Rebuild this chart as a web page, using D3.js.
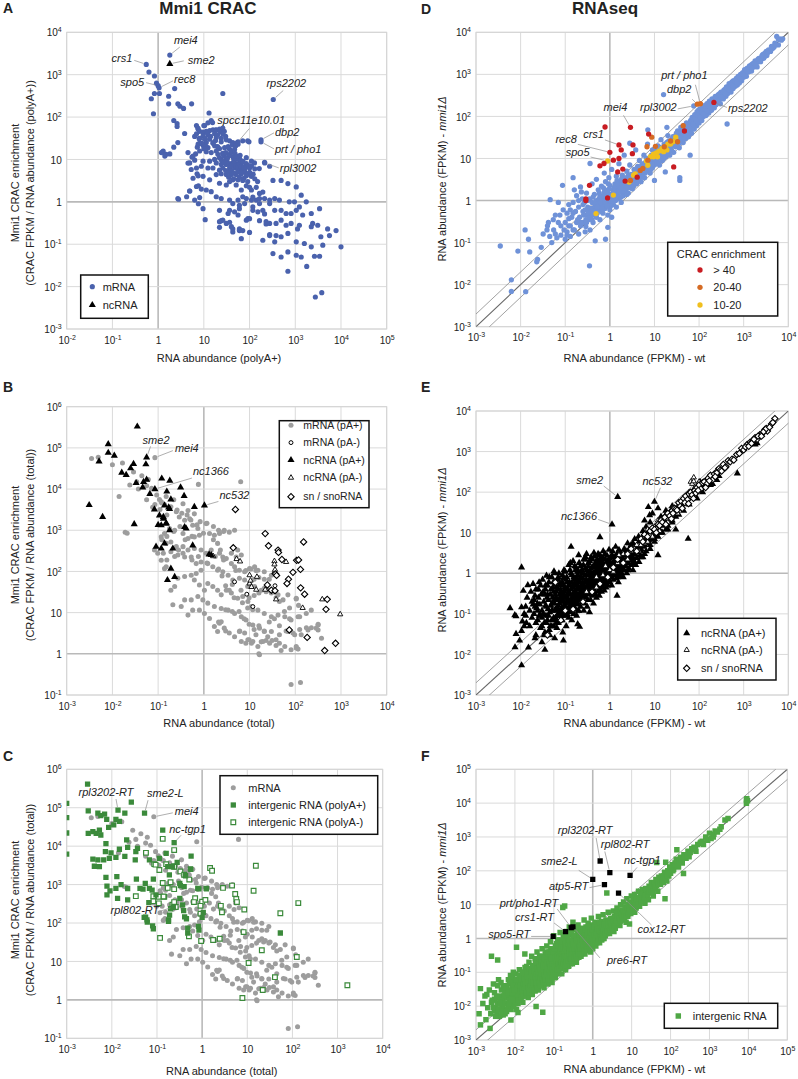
<!DOCTYPE html>
<html><head><meta charset="utf-8">
<script src="https://cdn.jsdelivr.net/npm/d3@7"></script>
<style>
body{margin:0;background:#fff;}
text{font-family:"Liberation Sans",Arial,Helvetica,sans-serif;fill:#222;}
</style></head><body>
<script>
// ===================== DATA =====================
const ticksA_x = [1e-2,1e-1,1,10,100,1e3,1e4,1e5];
const ticksA_y = [1e-3,1e-2,1e-1,1,10,100,1e3,1e4];
const ticksBC_x = [1e-3,1e-2,1e-1,1,10,100,1e3,1e4];
const ticksBC_y = [1e-1,1,10,100,1e3,1e4,1e5,1e6];
const ticksDE = [1e-3,1e-2,1e-1,1,10,100,1e3,1e4];
const ticksF = [1e-3,1e-2,1e-1,1,10,100,1e3,1e4,1e5];

// Panel A: [RNA abundance polyA+, CRAC enrichment]
const aMrna = [[0.55,1750],[0.63,1150],[0.83,930],[0.92,630],[1.0,550],[1.05,490],[0.83,360],[1.07,360],[0.71,270],[0.79,120],[1.8,2900],[2.3,470],[1.7,310],[1.7,205],[2.7,205],[3.0,180],[3.6,160],[5.4,205],[26,360],[330,260],[13,125],[2.2,83],[2.6,70],[2.6,60],[3.8,41],[2.7,25],[2.2,19.5],[1.26,15],[1.4,12],[1.8,13.5],[4.5,8.2],[5.5,11.4],[2.8,1.15],[4.9,1.8],[7.4,55],[10.7,31],[7.9,31],[8.1,24],[7.2,19.5],[6.6,13.5],[10,63],[12,43],[15.5,74],[18,49],[23,45],[28,46],[178,29],[178,26],[215,8.3],[97,26],[163,6.1],[56,23],[54,25],[7.6,0.9],[10.7,0.38],[7.1,4.6],[7.6,2.4],
[14.5,83],[12.3,73],[10.4,63],[6.9,63],[7.5,52],[8.1,46],[9.6,44],[11.3,46],[13.4,48],[15.8,50],[18.7,50],[22,52],[26,55],[17.2,41],[12.3,38],[9.6,36],[6.3,35],[6.9,40],[8.1,31.6],[10.4,30],[13.4,30],[18.7,33],[24,31.6],[31,29],[36.6,27.5],[43,25],[56,26],[71,27.5],[91,27.5],[11.3,25],[15.8,24],[7.5,23],[9.6,21.7],[12.3,19],[17.2,21],[22,18],[28.5,19],[36.6,17.4],[47,17.4],[18.7,15.8],[14.5,14.5],[11.3,15.2],[8.1,15.8],[4.5,14.5],[5.8,12],[20.3,13.2],[26,14],[36.6,13.2],[47,12],[60,11.5],[85,11],[31,10.4],[24,10],[17.2,10],[13.4,9.1],[9.6,9.1],[6.3,9.6],[4.9,8.3],[1.29,15.8],[1.18,14.5],[1.5,13.2],[18.7,8.3],[24,7.6],[31,7.6],[40,8],[51,8],[66,7.6],[85,8],[110,9.1],[128,8.3],[26,6.3],[36.6,6.3],[47,6.3],[60,5.8],[78,5.8],[100,6.3],[22,5.6],[15.8,6.3],[12.3,6.3],[8.8,6.9],[6.9,6.3],[5.3,5.8],[213,8.6],[275,6.9],[18.7,4.4],[24,4.6],[31,4.4],[40,4.4],[51,4.4],[66,4.6],[85,4.1],[110,4.0],[43,3.3],[56,3.3],[71,3.2],[91,3.0],[36.6,3.0],[9.6,4.0],[7.5,4.1],[5.8,3.6],[13.4,3.3],[22,2.75],[31,2.5],[51,2.5],[85,2.4],[100,2.2],[140,2.2],[66,1.9],[110,1.9],[11.3,1.9],[14.5,1.74],[4.9,1.8],[8.8,2.0],[6.9,2.3],[2.7,1.2],[4.2,1.32],[8.1,1.26],[6.3,1.1],[18.7,1.32],[24,1.2],[36.6,1.1],[56,1.1],[71,1.32],[85,1.2],[110,1.1],[140,1.1],[165,1.2],[213,1.2],[275,1.1],[43,0.91],[165,0.91],[9.6,0.69],[22,0.63],[36.6,0.63],[60,0.69],[118,0.76],[213,0.52],[355,0.63],[24,0.36],[36.6,0.33],[100,0.4],[165,0.36],[230,0.3],[22,0.25],[43,0.23],[60,0.21],[100,0.19],[275,0.17],[380,0.16],
[25,9],[28,8.5],[32,9.5],[35,8],[38,7],[42,7.5],[45,9],[50,7],[55,6.5],[60,8],[65,6.8],[70,5.5],[75,6.5],[80,5],[30,5.5],[35,5],[40,5.5],[45,4.8],[55,5.2],[65,4.9],[28,12],[33,11],[38,12.5],[44,11],[50,10.5],[58,10],[64,9.5],[72,9],[22,11],[26,13.5],[30,14.5],[40,15],[48,14],[52,12],[62,12.5],[34,20],[42,22],[50,21],[20,20],[16,25],[24,26],[30,35],[26,40],[20,38],[18,28],[14,35],[12,42],[11,20],[10,18],[9,24],[35,3.8],[45,3.5],[60,3.8],[75,3.6],[90,4.5],[120,4.5],[130,3.5],[150,3.0],[100,5],[85,6.7],[95,7.2],[110,7],[130,6],
[325,3.2],[490,3.2],[690,2.7],[1050,2.25],[1350,1.44],[1740,1],[960,1],[740,1],[450,1.1],[355,1.2],[275,0.91],[195,1.7],[165,1.58],[118,1.3],[118,0.63],[152,0.58],[195,0.63],[230,0.34],[275,0.31],[380,0.31],[490,0.37],[630,0.28],[810,0.31],[1230,0.28],[490,0.63],[630,0.53],[810,0.53],[1050,0.63],[1230,0.76],[1450,0.49],[2240,0.53],[2400,0.31],[2240,0.26],[3100,0.28],[3400,0.69],[5100,0.23],[7800,0.21],[3630,0.15],[4000,0.095],[5600,0.16],[10000,0.087],[195,0.124],[275,0.16],[355,0.114],[490,0.15],[690,0.18],[1050,0.114],[1120,0.23],[1580,0.104],[2240,0.087],[325,0.06],[490,0.05],[690,0.066],[1050,0.055],[1350,0.05],[2630,0.052],[3400,0.052],[1780,0.03],[690,0.023],[2750,0.0057],[3800,0.0072],[31,0.31],[40,0.26],[43,0.195],[60,0.23],[66,0.135],[71,0.21],[26,0.37],[22,0.34],[34,0.53],[47,0.58],[56,0.49],[85,0.37],[92,0.4],[60,0.83],[78,0.91]];
const aNcrna = [[1.8,1800]];

// Panels B & C: mRNA [RNA abundance (total), CRAC enrichment]
const mrnaTotal = [[0.117,4900],[0.138,4200],[0.19,3700],[0.25,2800],[0.35,4400],[0.45,3000],[0.62,2500],[0.29,2100],[0.38,1740],[0.49,1900],[0.57,1320],[0.74,1100],[1.12,1450],[1.33,830],[1.7,760],[2.2,830],[2.8,1000],[3.6,900],[4.7,1000],[0.8,760],[0.62,690],[0.45,630],[0.35,830],[0.23,1000],[0.178,1100],[0.138,830],[0.117,690],[0.15,480],[0.19,520],[0.25,400],[0.35,400],[0.45,330],[0.62,360],[0.87,330],[1.12,275],[1.45,330],[2.0,480],[2.2,275],[2.6,225],[3.1,205],[4.0,155],[4.7,130],[6.0,107],[7.8,98],[10,117],[12.9,130],[15.2,107],[21,98],[30,81],[4.0,275],[5.1,225],[5.5,330],[6.6,250],[0.19,300],[0.27,250],[0.38,225],[0.53,225],[0.68,155],[0.87,170],[1.22,155],[1.57,130],[2.0,107],[2.6,98],[3.4,81],[4.3,62],[6.0,68],[7.8,62],[10,51],[12.9,43],[18,35],[23,32],[30,30],[42,27],[54,20.4],[69,27],[105,22.4],[0.87,107],[0.68,89],[0.53,81],[0.38,75],[0.27,68],[0.23,43],[0.19,35],[0.15,130],[0.138,117],[0.117,186],[0.098,275],[0.083,330],
[0.62,62],[0.8,47],[1.03,35],[1.22,51],[1.57,43],[2.0,35],[2.4,27],[3.1,35],[4.0,30],[5.5,22.4],[7.1,24.5],[9.2,18.6],[11,14.1],[15.2,11.5],[21,9.5],[30,7.9],[42,8.7],[59,7.9],[81,6.6],[115,7.9],[174,9.5],[224,11.5],[316,5.0],[288,4.2],[190,3.8],[135,2.9],[97,2.9],[69,3.5],[45,2.9],[38,2.2],[27.5,1.8],[19.6,2.0],[15.2,1.5],[11,1.8],[9.2,2.2],[7.8,3.2],[6.0,3.5],[4.7,2.6],[3.6,3.2],[2.8,4.2],[2.2,5.5],[1.7,4.6],[1.33,7.2],[1.03,9.5],[0.8,11.5],[0.57,11.5],[0.45,8.7],[0.32,14.1],[0.21,15.5],[0.38,20.4],[0.53,20.4],[0.74,24.5],[0.95,20.4],[1.22,17],[1.7,14.1],[2.4,12.6],[3.4,11.5],[4.7,9.5],[6.6,7.9],[8.4,6.6],[11.8,5.0],[16.5,4.2],[21,3.5],[30,3.5],[45,1.8],[59,1.5],[81,1.26],[105,1.38],[16.5,0.95],[11.8,2.0],[6.6,2.0],[2.0,3.5],[2.4,6.0],[81,0.18],[130,0.2],
[0.0049,5.9e4],[0.0035,5.5e4],[0.01,3.9e4],[0.0166,4.3e4],[0.029,2.6e4],[0.034,1.5e4],[0.044,2.1e4],[0.061,1.7e4],[0.085,5.8e4],[0.014,6600],[0.019,890],[0.021,850],[0.024,1.26e4],[0.037,1.0e4],[0.056,1.2e4],[0.072,1.05e4],[0.093,7200],[0.107,5600],[0.15,6600],[0.22,5500],[0.76,1.3e4],[0.11,3200],[0.155,2350],[0.056,5500],[0.076,3600],[0.085,4200],[0.12,4600],[0.26,3100],[0.33,2600],[0.43,2350],[0.52,1780],[0.71,1350],[0.83,1620],[1.17,1480],[1.62,1230],[2.1,1000],[2.7,930],[0.3,1230],[0.22,930],[0.155,710],[0.12,590],[0.13,275],[0.155,190],[0.23,230],[0.28,330],[0.39,590],[0.55,710],[0.98,850],[1.62,590],[2.3,330],[0.35,275],[0.55,190],[0.76,230],[1.17,160],[1.78,230],[2.7,190],[6.4,1.5e4],
[105,21.5],[118,15],[125,7.9],[75,13],[75,7.1],[58,10.7],[45,18.6],[38,23],[32,32],[25,35],[21,39],[16,30],[12.6,26],[9.8,23],[11.7,11.7],[9.1,13],[7.0,17.4],[5.9,10.7],[7.6,7.1],[9.8,5.2],[12.6,3.9],[16,4.8],[21,3.6],[27,5.9],[35,7.1],[45,4.8],[63,3.6],[89,3.2],[125,3.9],[175,4.3],[225,4.3],[316,5.2],[316,3.8],[375,2.4],[105,1.5],[115,1.3],[49,1.2],[38,1.6],[31,2.1],[25,2.6],[18,1.95],[13.8,2.9],[9.8,2.2],[8.3,1.8],[6.1,3.6],[16,1.0],[23,2.1],[2.1,5.9],[3.0,3.6],[4.2,10.7],[3.0,11.7],[4.6,23],[3.6,35],[2.5,78],[2.1,115],[5.0,105],[8.3,105],[10.7,115],[13.8,105],[16,71],[21,65],[27,65],[12.6,65],[9.1,43],[6.5,35],[4.2,48],[3.0,45]];
const bMrnaPAminus = [[4.7,56],[8.7,28],[11.8,14],[36,45]];
const bNcPA = [[0.035,3.3e5],[0.0081,1.23e5],[0.0081,7.6e4],[0.0051,4.7e4],[0.011,6.5e4],[0.056,5.9e4],[0.054,4.0e4],[0.025,3.2e4],[0.029,4.1e4],[0.016,2.5e4],[0.02,2.2e4],[0.033,1.4e4],[0.048,1.5e4],[0.056,1.7e4],[0.046,1.1e4],[0.085,1.0e4],[0.066,7600],[0.12,1.8e4],[0.18,1.6e4],[0.31,1.1e4],[0.37,6800],[0.155,8700],[0.19,5600],[0.17,3600],[0.083,3200],[0.107,2300],[0.117,1320],[0.15,1450],[0.178,1000],[0.138,4000],[0.178,3300],[0.38,1200],[0.41,1100],[0.62,3700],[1.03,4000],[0.09,400],[0.117,360],[0.21,360],[0.138,480],[0.57,430],[1.45,250],[1.3,260],[0.19,117],[0.16,62],[0.23,74],[0.0031,4100],[0.0061,2100],[0.03,1400],[0.13,1900],[0.1,1350],[0.15,1500],[0.13,2100]];
const bNcPAminus = [[1.6,235],[5.2,200],[6.2,175],[10,51],[10.5,60],[14.5,74],[14,36],[22,36],[35,178],[35,148],[35,96],[36,110],[63,170],[38,21],[145,13],[390,21],[960,9.1],[10,81],[11,42]];
const bSno = [[4.9,3200],[22,830],[26,420],[42,330],[43,290],[51,195],[107,186],[118,190],[152,520],[4.4,375],[89,95],[130,112],[71,65],[66,51],[37,87],[39,80],[24.5,47],[30,35],[36,34],[131,40],[160,28],[500,21],[470,12],[74,3.8],[182,2.5],[440,1.2],[760,1.8]];

// Panel C: intergenic RNA
const cIgPA = [[0.0029,4.1e5],[0.001,1.3e5],[0.0049,7.2e4],[0.0069,6.8e4],[0.0137,8.7e4],[0.0194,7.2e4],[0.027,1.4e5],[0.053,7.2e4],[0.003,8.3e4],[0.0057,6.2e4],[0.0077,5.0e4],[0.0123,5.0e4],[0.0085,3.1e4],[0.011,3.6e4],[0.0147,4.4e4],[0.0053,2.6e4],[0.0038,2.4e4],[0.003,2.15e4],[0.0045,2.15e4],[0.0057,1.95e4],[0.0213,1.45e4],[0.0074,1.17e4],[0.0147,8300],[0.0224,9300],[0.034,7200],[0.0072,7200],[0.0096,6700],[0.0038,4600],[0.0049,4400],[0.0066,4400],[0.0041,3000],[0.0053,2950],[0.0088,4800],[0.0123,5100],[0.0194,5400],[0.037,8800],[0.033,4400],[0.068,4400],[0.134,2.6e4],[0.24,1.23e4],[0.16,6500],[0.173,2950],[0.113,4800],[0.22,2950],[0.0074,1550],[0.0129,1620],[0.035,1380],[0.016,1000],[0.0224,790],[0.0078,910],[0.0091,690],[0.0123,800],[0.083,1380],[0.055,1070],[0.068,800],[0.049,760],[0.042,800],[0.078,720],[0.095,540],[0.188,1780],[0.32,1070],[0.4,890],[0.57,5500],[0.8,800],[1.23,800],[0.0224,400],[0.0134,440],[0.0078,540],[0.32,440],[0.37,295],[0.23,260],[0.066,340],[0.052,140],[0.06,120],[0.08,84],[0.18,120],[0.19,160],[0.41,145],[0.48,74],[0.83,82],[1.0,140],[1.06,190],[0.56,2500],[0.28,3800],[0.55,2560],[0.43,1700],[0.33,940],[0.85,770],[1.25,770],[0.39,210],[0.2,235],[0.056,142],[0.061,105],[0.083,71],[0.18,110],[0.45,129],[0.85,65],[0.48,55],[54,55],[0.001,2.2e4],[0.001,5.5e4],[0.001,6200]];
const cIgPAminus = [[0.134,1.55e4],[0.24,7900],[0.057,6700],[0.087,3400],[0.16,3400],[0.24,3000],[0.113,2400],[0.33,2200],[0.4,1800],[0.134,1100],[0.2,1150],[0.52,1350],[0.083,500],[0.11,480],[0.145,480],[0.034,500],[0.11,325],[0.22,300],[0.173,820],[0.24,760],[0.7,440],[1.0,360],[1.5,2700],[2.9,820],[0.093,3300],[0.24,2900],[1.66,2300],[15.5,3100],[4.6,940],[13.8,690],[5.4,570],[5.7,420],[5.9,350],[8.6,225],[54,180],[135,330],[0.14,490],[0.083,370],[0.24,350],[0.26,260],[0.66,350],[0.92,280],[0.92,175],[1.18,400],[2.6,280],[2.75,190],[0.117,41],[0.51,45],[0.95,34],[1.75,36],[2.45,39],[8.3,58],[21,19.5],[125,13],[10.7,9.1],[41,3.9],[22,1.8],[7.8,1.12],[1650,2.4]];

// Panel D: [FPKM wt, FPKM mmi1Δ]
const dAll = [[0.0035,0.083],[0.0062,0.013],[0.0062,0.0069],[0.0087,0.063],[0.013,0.0068],[0.0126,0.2],[0.015,0.12],[0.016,0.06],[0.023,0.035],[0.024,0.04],[0.032,0.16],[0.029,0.077],[0.046,1.05],[0.042,0.3],[0.039,0.2],[0.05,0.1],[0.054,0.35],[0.065,0.13],[0.07,0.9],[0.087,2.3],[0.076,0.45],[0.094,0.2],[0.12,0.37],[0.13,0.6],[0.15,3.5],[0.16,1.8],[0.22,2.1],[0.24,1.1],[0.35,0.028],[0.36,7.6],[0.29,0.24],[0.47,0.11],[0.52,0.5],[0.8,0.12],[0.9,0.23],[0.63,1.2],
[0.04,0.25],[0.045,0.14],[0.055,0.2],[0.06,0.16],[0.06,0.45],[0.07,0.3],[0.08,0.15],[0.08,0.25],[0.09,0.6],[0.1,0.12],[0.1,0.3],[0.11,0.18],[0.11,0.5],[0.12,0.25],[0.13,0.14],[0.14,0.4],[0.15,0.9],[0.15,0.2],[0.17,0.55],[0.18,0.3],[0.18,1.3],[0.2,0.7],[0.2,0.16],[0.21,0.4],[0.23,1.6],[0.25,0.3],[0.25,0.55],[0.27,0.9],[0.28,0.18],[0.3,0.45],[0.3,1.5],[0.32,0.7],[0.33,0.35],[0.35,1.1],[0.36,0.2],[0.38,0.55],[0.4,2.5],[0.4,0.9],[0.42,0.3],[0.45,0.7],[0.45,1.4],[0.48,0.45],[0.5,1.0],[0.5,3.2],[0.55,0.6],[0.55,1.8],[0.6,0.35],[0.6,1.3],[0.65,0.8],[0.65,2.2],[0.7,0.5],[0.7,1.1],[0.75,1.6],[0.75,4.5],[0.8,0.7],[0.8,2.8],[0.85,1.2],[0.9,0.45],[0.9,1.8],[0.95,0.9],[0.95,3.5],[1.0,0.6],[1.0,1.4],[1.0,2.3],[1.1,1.0],[1.1,0.4],[1.1,5.5],[1.2,1.7],[1.2,0.8],[1.3,2.5],[1.3,1.2],[1.4,0.7],[1.4,3.8],[1.5,1.5],[1.5,2.0],[1.6,1.1],[1.6,7.5],[1.7,2.8],[1.8,1.6],[1.8,0.9],[1.9,4.0],[2.0,2.2],[2.0,1.3],[2.1,12],[2.2,3.0],[2.3,1.8],[2.4,5.0],[2.5,2.5],[2.6,1.5],[2.7,3.5],[2.8,7.0],[3.0,2.4],[3.0,4.2],[3.2,1.9],[3.3,3.2],[3.5,5.5],[3.6,2.8],[3.8,16],[4.0,4.0],[4.0,2.5],[4.2,6.5],[4.5,3.5],[4.6,9],[4.8,5.0],[5.0,2.8],[5.2,7.0],[5.5,4.5],[5.8,12],[6.0,6.0],[6.0,3.5],[6.5,8.5],[6.8,5.0],[7.0,22],[7.2,10],[7.5,6.5],[8.0,4.5],[8.0,8.0],[8.5,12],[9.0,6.0],[9.0,16],[9.5,9],[10,7.0],[10,12],[10,3.0],[11,14],[11,9],[12,10],[12,20],[13,7],[13,14],[14,11],[14,28],[15,17],[15,9],[16,13],[17,20],[18,11],[18,16],[19,24],[20,14],[20,35],[21,18],[22,12],[23,22],[24,16],[25,30],[26,20],[27,14],[28,25],[30,35],[30,19],[32,27],[33,45],[34,22],[35,30],[36,18],[38,40],[40,28],[40,50],[42,34],[44,24],[45,60],[47,38],[50,45],[50,30],[52,70],[55,40],[55,55],[58,33],[60,65],[62,48],[65,80],[66,55],[68,40],[70,95],[72,60],[75,70],[78,50],[80,110],[82,75],[85,90],[88,60],[90,130],[92,85],[95,100],[100,70],[100,120],[105,150],[108,90],[110,110],[115,80],[120,160],[122,130],[125,100],[130,180],[135,120],[140,150],[145,110],[150,200],[155,140],[160,170],[165,120],[170,230],[175,160],[180,190],[190,140],[195,260],[200,200],[205,170],[210,240],[220,160],[230,300],[235,220],[240,190],[250,270],[260,210],[270,330],[280,240],[290,290],[300,200],[310,380],[320,280],[330,320],[350,260],[360,420],[370,330],[380,380],[400,300],[410,500],[420,400],[440,350],[450,450],[470,600],[480,420],[500,500],[520,380],[540,650],[560,520],[580,460],[600,700],[620,580],[650,520],[680,800],[700,650],[720,560],[750,900],[780,700],[800,620],[850,1000],[880,800],[900,700],[950,1100],[1000,850],[1050,1300],[1100,1000],[1150,900],[1200,1400],[1300,1150],[1350,1600],[1400,1300],[1500,1200],[1600,1800],[1700,1500],[1800,2100],[1900,1700],[2000,1500],[2200,2400],[2400,2000],[2600,2800],[2800,2400],[3000,3200],[3300,2800],[3600,3800],[4000,3500],[4500,4200],[5000,5500],[6000,5000],[6500,7000],[7500,7000],[5500,8000],
[16,330],[425,66],[63,12],[37,3.5],[37,3.0],[17.5,4.8],[7.1,48],[19,55],[2.8,23],[76,178],
[0.35,0.4],[0.4,0.5],[0.5,0.55],[0.6,0.7],[0.7,0.8],[0.8,1.0],[0.9,1.1],[1.0,1.0],[1.2,1.3],[1.4,1.6],[1.6,1.8],[1.8,2.0],[2.0,2.6],[2.2,2.0],[2.5,3.0],[2.8,3.3],[3.2,3.8],[3.5,4.0],[3.8,3.2],[4.2,4.8],[5.0,6.0],[5.5,5.5],[6.5,7.0],[7.0,8.0],[8.0,9.5],[9.0,10],[11,11],[13,12],[15,14],[17,17],[19,19],[22,21],[25,24],[28,29],[32,32],[36,35],[40,42],[45,45],[50,52],[56,56],[63,63],[70,72],[80,80],[90,95],[100,100],[115,120],[130,135],[150,150],[170,175],[190,200],[220,220],[250,240],[280,290],[320,330],[360,350],[400,400],[450,480],[500,520],[560,580],[630,650],[700,720],[800,820],[900,900],[1000,1050],[1200,1200],[1400,1500],[1700,1700],[2000,2100],[2500,2500],[3000,2700],
[0.12,0.8],[0.15,0.5],[0.2,1.0],[0.22,0.25],[0.25,0.8],[0.28,0.6],[0.3,0.3],[0.32,1.0],[0.35,0.6],[0.4,0.35],[0.42,1.2],[0.45,0.55],[0.5,0.4],[0.55,0.9],[0.58,1.5],[0.65,0.55],[0.68,1.0],[0.72,2.0],[0.78,0.65],[0.85,0.8],[0.88,1.5],[0.92,2.5],[1.05,0.75],[1.15,1.4],[1.25,2.0],[1.35,1.0],[1.45,3.0],[1.55,1.3],[1.65,2.2],[1.75,1.2],[1.85,3.3],[1.95,1.8],[2.1,1.6],[2.3,2.5],[2.4,1.4],[2.6,4.0],[2.9,2.0],[3.1,3.0],[3.4,2.2],[3.7,4.8],[3.9,2.8],[4.3,3.0],[4.4,6.0],[4.7,4.0],[5.3,3.6],[5.6,7.5],[6.2,4.5],[6.6,10],[7.3,5.5],[7.8,7.2],[8.3,5.5],[8.8,10],[9.3,7.5],[10.5,8.5],[11.5,16],[12.5,8.0],[13.5,18],[14.5,13],[16,10],[16.5,22],[19,13],[21,26],[23,15],[26,33],[29,22],[31,40],[34,26],[37,24],[39,55],[43,32],[46,42],[49,36],[53,60],[57,45],[61,38],[64,75],[69,52],[73,85],[77,62],[83,70],[87,110],[93,75],[97,140],[103,85],[112,95],[118,140],[127,115],[137,170],[142,105],[152,180],[162,145],[172,135],[182,230],[198,175],[212,190],[225,270],[245,210],[265,250],[290,350],[310,270],[340,300],[380,440],[420,350],[460,520],[520,470],[580,700],[640,560],[720,800],[820,700],[920,1000],[1100,1150],[1300,1250],[1500,1700],[1800,1600],[2200,2000],[2700,3000],[3200,3500],[4200,4000],[4800,4500],[7000,6500],
[0.11,0.15],[0.13,0.25],[0.16,0.2],[0.19,0.35],[0.22,0.3],[0.26,0.45],[0.29,0.35],[0.33,0.5],[0.37,0.65],[0.41,0.45],[0.46,0.85],[0.52,0.7],[0.57,1.1],[0.62,0.9],[0.67,0.65],[0.73,1.3],[0.77,0.95],[0.83,1.6],[0.87,0.75],[0.93,1.2],[0.98,1.9],[1.05,1.3],[1.15,0.95],[1.25,1.6],[1.35,2.2],[1.45,1.3],[1.55,2.4],[1.65,1.6],[1.75,2.0],[1.9,2.4],[2.05,1.7],[2.2,2.6],[2.35,3.5],[2.5,2.0],[2.65,3.2],[2.85,2.6],[3.05,3.6],[3.3,2.7],[3.55,4.4],[3.8,3.7],[4.1,5.2],[4.4,3.6],[4.8,6.2],[5.2,4.8],[5.7,6.8],[6.2,5.4],[6.8,7.6],[7.4,6.2],[8.1,9.5],[8.8,7.4],[9.6,11],[10.5,10],[11.5,12.5],[12.5,11],[13.5,15],[14.5,13],[16,17],[17.5,15],[19,21],[21,19],[23,25],[25,22],[27,30],[30,27],[33,36],[36,32],[39,43],[43,39],[47,52],[51,46],[56,62],[61,55],[67,74],[73,66],[80,88],[87,80],[95,105],[105,95],[115,125],[125,115],[138,150],[150,138],[165,180],[180,165],[200,220],[220,200],[240,265],[265,240],[290,320],[320,290],[350,390],[390,350],[430,470],[470,430],[520,570],[570,520],[640,700],[700,640],[780,850],[850,780],[950,1040],[1040,950],[1150,1260],[1260,1150],[1400,1530],[1530,1400],[1700,1850],[1850,1700],[2100,2300],[2300,2100],[2600,2800],[3500,3300],[4200,4600],[5200,5000],[6000,6800]];
const dRed = [[0.78,56],[2.9,55],[3.3,21],[1.6,21],[1.0,14],[1.2,9.1],[1.8,16],[1.6,10],[0.74,7.6],[0.6,6.7],[1.5,4.8],[1.95,5.6],[3.2,13],[2.2,2.9],[4.1,3.6],[0.35,2.3],[0.29,1.0],[0.29,1.1],[0.89,1.15],[7.4,38],[27,6.3],[47,45],[215,215]];
const dOrange = [[91,195],[107,200],[44,60],[8.7,32],[6.8,19],[10.5,19.5],[23,26],[33,25],[4.8,5.2],[5.5,5.8],[2.9,3.0],[7.1,9.1],[16.6,19]];
const dYellow = [[0.89,8.7],[1.2,1.35],[0.49,0.49],[2.7,2.75],[3.4,4.0],[3.7,4.3],[6.6,8.7],[8.1,11],[9.5,12.6],[11,13.5],[12.6,15],[14.8,17.4],[17.4,19],[20,22],[23,22],[26,25],[30,32],[11.7,11],[7.1,6.9],[9.5,11],[16,14.5],[19,16]];

// Panel E
const eNcPA = [[0.03,0.02],[0.03,0.05],[0.032,0.1],[0.035,0.3],[0.035,0.035],[0.038,0.15],[0.04,0.07],[0.04,0.5],[0.042,0.22],[0.045,0.03],[0.045,0.11],
[0.05,0.05],[0.05,0.18],[0.05,0.8],[0.055,0.35],[0.055,0.08],[0.058,0.025],[0.06,0.13],[0.06,0.6],[0.062,0.25],[0.065,0.045],[0.065,0.09],[0.068,0.4],[0.07,0.16],[0.07,0.06],[0.072,1.0],[0.075,0.3],
[0.08,0.11],[0.08,0.5],[0.082,0.2],[0.085,0.07],[0.088,0.035],[0.09,0.14],[0.09,0.75],[0.095,0.28],[0.1,0.09],[0.1,0.18],[0.1,0.4],[0.1,1.1],[0.105,0.05],[0.11,0.13],[0.11,0.6],[0.115,0.24],[0.12,0.08],[0.12,0.35],[0.12,1.6],[0.125,0.16],
[0.13,0.5],[0.13,0.11],[0.135,0.22],[0.14,0.07],[0.14,0.9],[0.145,0.3],[0.15,0.15],[0.15,0.45],[0.15,2.0],[0.155,0.1],[0.16,0.25],[0.16,0.7],[0.165,0.35],[0.17,0.13],[0.17,1.2],[0.175,0.2],[0.18,0.55],[0.18,0.09],[0.185,0.3],[0.19,0.9],[0.19,0.17],[0.2,2.8],[0.2,0.4],[0.2,0.12],
[0.21,0.25],[0.21,0.65],[0.22,1.5],[0.22,0.15],[0.23,0.35],[0.23,0.5],[0.24,0.2],[0.24,1.0],[0.25,0.28],[0.25,0.75],[0.26,0.12],[0.26,2.2],[0.27,0.4],[0.27,0.18],[0.28,0.6],[0.28,1.3],[0.29,0.25],[0.3,0.32],[0.3,0.9],[0.3,3.0],[0.31,0.15],[0.32,0.45],[0.32,0.22],[0.33,1.8],[0.33,0.65],[0.34,0.3],[0.35,1.1],[0.35,0.38],[0.35,0.11],
[0.36,0.5],[0.37,0.22],[0.38,0.8],[0.38,2.5],[0.39,0.35],[0.4,0.28],[0.4,1.4],[0.41,0.6],[0.42,0.45],[0.43,0.18],[0.43,1.0],[0.44,3.2],[0.45,0.38],[0.46,0.7],[0.47,1.8],[0.48,0.3],[0.48,0.55],[0.5,0.25],[0.5,0.9],[0.5,1.2],[0.51,0.45],[0.52,2.2],[0.53,0.65],[0.54,0.35],[0.55,1.5],[0.56,0.8],[0.57,0.5],[0.58,0.28],[0.58,1.1],[0.6,0.6],[0.6,2.8],[0.6,0.4],
[0.62,0.9],[0.63,1.3],[0.64,0.5],[0.65,0.35],[0.66,1.8],[0.67,0.7],[0.68,1.0],[0.7,0.45],[0.7,2.4],[0.72,0.6],[0.73,1.4],[0.74,0.85],[0.75,0.38],[0.76,1.1],[0.78,3.0],[0.78,0.55],[0.8,0.7],[0.8,1.7],[0.82,0.45],[0.84,1.0],[0.85,1.3],[0.86,0.62],[0.88,2.0],[0.9,0.8],[0.9,0.5],[0.92,1.15],[0.94,1.6],[0.95,0.7],[0.96,3.8],[0.98,0.95],[1.0,1.3],[1.0,0.6],[1.0,2.3],
[1.05,0.8],[1.08,1.1],[1.1,1.6],[1.1,0.5],[1.12,2.8],[1.15,0.95],[1.2,1.3],[1.2,0.7],[1.25,2.0],[1.28,0.9],[1.3,1.6],[1.35,1.1],[1.35,4.5],[1.4,0.75],[1.45,1.4],[1.5,2.4],[1.5,1.0],[1.55,0.6],[1.6,1.8],[1.65,1.2],[1.7,3.2],[1.7,0.85],[1.75,1.5],[1.8,2.2],[1.85,1.0],[1.9,1.3],[1.95,2.8],[2.0,1.7],[2.0,0.8],
[2.1,1.2],[2.2,2.0],[2.3,1.5],[2.3,3.5],[2.4,1.0],[2.5,2.5],[2.6,1.8],[2.7,1.3],[2.8,3.0],[2.9,2.1],[3.0,1.6],[3.0,5.0],[3.2,2.6],[3.3,1.2],[3.4,3.8],[3.5,2.0],[3.7,2.9],[3.8,1.6],[4.0,4.5],[4.0,2.4],[4.2,3.3],[4.5,1.9],[4.5,6.0],[4.8,2.8],[5.0,4.0],[5.0,3.5],
[5.5,8],[5.5,2.5],[6,5],[6,20],[6.5,3.5],[7,10],[7,5.5],[7.3,43],[7.8,27],[8,4],[8.5,7],[9,12],[10,58],[10,6],[11,9],[12,2.8],[12,15],[14,10],[15,22],[18,12],[20,15],[22,30],[25,18],[30,12],[30,25],[57,7.1],[40,45],[75,110],[105,180],[125,140],[150,170],[200,160],[280,250],[720,290],[2000,1600],[1800,1500],
[0.0058,0.138],[0.0074,0.093],[0.0079,0.087],[0.0105,1.4],[0.0145,0.51],[0.0115,0.37],[0.0105,0.145],[0.012,0.1],[0.013,0.09],[0.011,0.065],[0.0135,0.06],[0.0105,0.038],[0.0079,0.032],[0.0095,0.022],[0.0075,0.015],[0.0105,0.0054],[0.015,0.0148],[0.021,0.28],[0.019,0.17],[0.021,0.15],[0.024,0.12],[0.021,0.025],[0.035,0.013],[0.038,0.87],[0.036,0.5],[0.056,1.12],[0.059,0.52],[0.064,0.061],[0.091,0.022],[0.135,4.5],[0.13,1.8],[0.19,0.056],[0.21,0.048],[0.6,7.8],[1.45,0.28],[0.28,2.2],[1.12,16],[1.5,76],[0.018,0.2],[0.025,0.4],[0.028,0.09],[0.016,0.05],[0.022,0.06]];
const eNcPAcore = [[0.05,0.07],[0.06,0.08],[0.07,0.1],[0.08,0.09],[0.09,0.12],[0.1,0.15],[0.11,0.1],[0.12,0.13],[0.13,0.2],[0.14,0.16],[0.15,0.25],[0.16,0.18],[0.17,0.22],[0.18,0.2],[0.19,0.26],[0.2,0.22],[0.21,0.3],[0.22,0.35],[0.23,0.27],[0.24,0.3],[0.25,0.4],[0.26,0.33],[0.27,0.28],[0.28,0.42],[0.29,0.36],[0.3,0.38],[0.31,0.5],[0.32,0.33],[0.33,0.42],[0.34,0.55],[0.35,0.48],[0.36,0.4],[0.37,0.6],[0.38,0.45],[0.39,0.52],[0.4,0.7],[0.41,0.5],[0.42,0.6],[0.43,0.75],[0.44,0.48],[0.45,0.58],[0.46,0.9],[0.47,0.62],[0.48,0.75],[0.5,0.65],[0.52,0.8],[0.54,0.6],[0.56,1.0],[0.58,0.7],[0.6,0.85],[0.62,0.65],[0.64,1.1],[0.66,0.8],[0.68,0.6],[0.7,1.0],[0.72,1.3],[0.74,0.7],[0.76,0.9],[0.78,1.2],[0.8,0.85],[0.82,1.5],[0.84,0.75],[0.86,1.1],[0.88,0.9],[0.9,1.3],[0.92,0.7],[0.94,1.0],[0.96,1.2],[0.98,2.0],[1.02,1.0],[1.06,1.5],[1.1,1.2],[1.14,0.9],[1.18,1.8],[1.22,1.1],[1.26,1.4],[1.3,0.95],[1.35,2.2],[1.4,1.3],[1.45,1.7],[1.5,1.2],[1.55,2.8],[1.6,1.5],[1.65,1.0],[1.7,2.0],[1.8,1.4],[1.9,2.5],[2.0,2.0],[2.1,1.6],[2.2,2.8],[2.3,1.8],[2.4,3.0],[2.6,2.2],[2.8,2.5],[3.0,3.2],[3.2,2.2],[3.5,3.0],[3.8,4.5],[4.2,3.8],[4.6,4.2],[5.2,5.0],[5.8,4.5],[6.5,7],[7.5,6.5],[8.5,9],[9.5,8],[11,11],[13,12],[16,15],[19,18],
[0.012,0.05],[0.013,0.15],[0.014,0.25],[0.016,0.12],[0.017,0.35],[0.018,0.08],[0.019,0.55],[0.02,0.1],[0.02,0.22],[0.022,0.4],[0.023,0.14],[0.024,0.07],[0.025,0.25],[0.026,0.6],[0.027,0.17],[0.028,0.045],[0.029,0.3],[0.03,0.12],[0.031,0.7],[0.033,0.2],[0.034,0.06],[0.036,0.4],[0.037,0.09],[0.039,0.25],[0.041,0.13],[0.043,0.6],[0.044,0.04],[0.046,0.3],[0.048,0.16],[0.052,0.12],[0.053,0.45],[0.057,0.22],[0.058,1.0],[0.063,0.35],[0.067,0.14],[0.069,0.7],[0.073,0.22],[0.077,0.12],[0.078,0.4],[0.083,0.3],[0.087,0.9],[0.092,0.2],[0.093,0.5],[0.097,0.35],[0.108,0.8],[0.112,0.3],[0.118,0.5],[0.122,0.2],[0.128,1.2],[0.138,0.4],[0.142,0.6],[0.148,0.25],[0.158,0.5],[0.162,1.5],[0.168,0.3],[0.178,0.8],[0.182,0.4],[0.188,1.1],[0.195,0.6],[0.205,1.8],[0.215,0.45],[0.225,0.8],[0.235,1.2],[0.245,0.6],[0.255,1.6],[0.265,0.5],[0.275,0.9],[0.285,2.5],[0.295,0.7],[0.305,1.2],[0.315,0.6],[0.325,1.5],[0.345,0.9],[0.355,2.0],[0.365,0.7],[0.375,1.3],[0.395,1.0],[0.405,2.2],[0.425,0.8],[0.445,1.4],[0.455,2.6],[0.475,1.1],[0.495,1.6],[0.515,0.9],[0.535,1.8],[0.545,3.0],[0.565,1.3],[0.585,2.0],[0.61,1.0],[0.63,2.5],[0.65,1.5],[0.69,1.8],[0.71,3.5],[0.75,1.6],[0.79,2.2],[0.83,1.4],[0.87,2.7],[0.91,1.8],[0.97,1.5],[1.05,2.5],[1.15,3.5],[1.25,2.5],[1.45,3.0],[1.6,3.8],[1.8,3.0],[2.1,4.0],[2.5,5.5],[2.7,4.0],[3.3,5.5],[3.6,7],[4.4,8],[5.5,11],[6.5,14],[8,18],[9,30],[12,40],[14,25],[18,35],[25,45],
[1.5,0.8],[2.5,1.2],[3.5,1.8],[5,2.5],[6,3],[8,5],[10,7],[12,8],[15,10],[20,12],[25,20],[35,28],[45,35],[60,50],[90,70],[120,100],[180,150],[250,200],
[0.022,0.03],[0.024,0.18],[0.026,0.09],[0.028,0.5],[0.03,0.08],[0.032,0.35],[0.034,0.03],[0.036,0.16],[0.038,0.06],[0.04,0.3],[0.042,0.09],[0.044,0.8],[0.046,0.05],[0.048,0.4],[0.05,0.12],[0.052,0.25],[0.054,0.6],[0.056,0.05],[0.058,0.18],[0.06,0.3],[0.062,0.07],[0.064,0.45],[0.066,0.12],[0.068,0.22],[0.07,0.8],[0.072,0.09],[0.074,0.18],[0.076,0.55],[0.078,0.25],[0.08,0.07],[0.082,0.35],[0.084,0.14],[0.086,0.6],[0.088,0.22],[0.09,0.09],[0.092,0.3],[0.094,1.2],[0.096,0.16],[0.098,0.45],[0.1,0.25],[0.105,0.7],[0.11,0.2],[0.115,0.4],[0.12,0.12],[0.125,0.6],[0.13,0.3],[0.135,1.0],[0.14,0.18],[0.145,0.45],[0.15,0.28],[0.155,0.8],[0.16,0.14],[0.165,0.55],[0.17,0.3],[0.175,1.4],[0.18,0.2],[0.185,0.7],[0.19,0.45],[0.195,0.12],[0.2,1.1]];
const eNcPAminus = [[2,3],[4,5],[6,8],[7,12],[8,9],[10,14],[12,20],[15,16],[18,28],[20,22],[25,40],[30,35],[35,50],[40,45],[45,70],[50,55],[55,90],[60,100],[65,180],[70,160],[80,130],[100,180],[120,160],[150,200],[180,210],[250,350],[0.5,0.8],[0.8,1.5],[1,1.2],[3,3.5],[1.6,2.8],[5,5],[76,230],[76,185],[0.3,0.35],[0.5,0.45],[0.7,0.9],[1.2,1.1],[1.5,1.8],[2.5,2.2],[3.5,4],[4.5,3.5],[6,5.5],[7,6],[9,8],[11,13],[13,11],[16,20],[20,18],[28,32],[33,30]];
const eSno = [[1.5,2.2],[3,4],[5,7],[6,9],[8,11],[9,13],[10,12],[12,16],[14,20],[15,18],[17,24],[20,30],[22,26],[25,35],[28,40],[30,38],[35,55],[38,45],[40,60],[45,70],[50,80],[55,65],[60,90],[65,100],[70,85],[80,110],[90,130],[100,150],[110,120],[120,170],[130,180],[150,160],[160,220],[180,260],[200,200],[220,280],[250,300],[280,380],[300,350],[350,480],[400,420],[450,600],[500,560],[550,650],[700,850],[900,1200],[1200,1500],[1400,1700],[1600,1800],[1800,2200],[2000,2000],[2300,2600],[2600,2800],[3000,3500],[3400,3200],[4200,4800],[5000,6500],[0.04,0.03],[0.06,0.6],
[0.08,0.07],[0.1,0.12],[0.15,0.13],[0.25,0.2],[0.4,0.35],[0.6,0.55],[0.9,0.8],[1.2,1.4],[2,1.8],[2.5,3],[4,3.5],[5.5,6],[7,8],[11,10],[13,15],[18,16],[24,22],[26,30],[32,36],[42,40],[48,55],[58,52],[75,70],[85,95],[95,110],[140,130],[170,190],[230,240],[320,330],[380,400],[600,620],[800,900],[1000,1100],[1100,1300],[1300,1350],[1500,1600],[1700,2000],[2100,2400],[2500,2400],[2800,3100],[3200,3700],[3800,4000],[4500,5200]];

// Panel F
const fIg = [[0.0013,0.0028],[0.0023,0.0022],[0.0013,0.033],[0.0017,0.02],[0.0019,0.022],[0.0025,0.3],[0.0036,0.23],[0.003,0.0073],[0.0033,0.009],[0.0035,0.0068],[0.005,0.0055],[0.0079,0.0039],[0.0025,0.013],[0.003,0.016],[0.0035,0.012],[0.004,0.02],[0.004,0.008],[0.0045,0.03],[0.0048,0.011],[0.0028,0.045],[0.0038,0.06],
[0.005,0.015],[0.0055,0.025],[0.0058,0.008],[0.006,0.04],[0.0062,0.012],[0.0065,0.018],[0.0068,0.06],[0.007,0.009],[0.0072,0.028],[0.0075,0.014],[0.0078,0.045],[0.008,0.02],[0.0082,0.011],[0.0085,0.035],[0.0088,0.07],[0.009,0.016],[0.0092,0.025],[0.0095,0.012],[0.0098,0.05],[0.011,0.55],[0.011,0.008],[0.012,0.0065],
[0.01,0.02],[0.01,0.03],[0.0105,0.09],[0.011,0.015],[0.011,0.045],[0.0115,0.025],[0.012,0.06],[0.012,0.012],[0.0125,0.035],[0.013,0.02],[0.013,0.12],[0.0135,0.05],[0.014,0.028],[0.014,0.016],[0.0145,0.08],[0.015,0.04],[0.015,0.022],[0.016,0.065],[0.016,0.013],[0.017,0.032],[0.017,0.1],[0.018,0.35],[0.018,0.05],[0.018,0.02],[0.019,0.075],[0.019,0.028],
[0.02,0.04],[0.02,0.15],[0.021,0.025],[0.021,0.06],[0.022,0.09],[0.022,0.018],[0.023,0.035],[0.023,0.2],[0.024,0.05],[0.025,0.12],[0.025,0.028],[0.026,0.07],[0.026,0.04],[0.027,0.3],[0.028,0.022],[0.028,0.1],[0.029,0.055],[0.03,0.035],[0.03,0.16],[0.031,0.08],[0.032,0.045],[0.033,0.25],[0.033,0.028],[0.034,0.12],[0.035,0.06],[0.035,0.0098],[0.036,0.04],[0.037,0.4],[0.038,0.09],[0.039,0.18],[0.04,0.05],[0.04,0.03],[0.041,0.13],[0.042,0.07],[0.043,0.3],[0.044,0.1],[0.045,0.04],[0.046,0.22],[0.047,0.06],[0.048,0.15],[0.049,0.08],[0.052,0.0066],
[0.05,0.5],[0.05,0.045],[0.052,0.11],[0.053,0.07],[0.055,0.2],[0.056,0.035],[0.058,0.13],[0.06,0.09],[0.06,0.35],[0.062,0.055],[0.064,0.17],[0.065,0.11],[0.066,0.6],[0.068,0.07],[0.07,0.25],[0.07,0.045],[0.072,0.14],[0.074,0.09],[0.076,0.4],[0.078,0.06],[0.08,0.2],[0.08,0.12],[0.082,0.8],[0.085,0.08],[0.086,0.3],[0.088,0.16],[0.09,0.05],[0.09,0.11],[0.092,0.5],[0.094,0.22],[0.096,0.14],[0.098,0.07],
[0.1,0.35],[0.1,0.1],[0.1,1.2],[0.105,0.18],[0.11,0.07],[0.11,0.28],[0.11,0.6],[0.115,0.13],[0.12,0.45],[0.12,0.2],[0.12,0.09],[0.125,0.9],[0.13,0.3],[0.13,0.15],[0.135,0.11],[0.14,0.5],[0.14,0.22],[0.145,1.5],[0.15,0.35],[0.15,0.13],[0.155,0.7],[0.16,0.25],[0.16,0.09],[0.165,0.18],[0.17,0.45],[0.17,8.3],[0.175,1.1],[0.18,0.3],[0.18,0.14],[0.185,0.6],[0.19,0.22],[0.19,9.1],[0.195,0.4],[0.2,0.12],[0.2,0.8],
[0.21,0.3],[0.21,1.6],[0.22,0.5],[0.22,0.18],[0.23,0.25],[0.23,1.0],[0.24,0.38],[0.24,0.15],[0.25,0.65],[0.25,2.2],[0.26,0.28],[0.27,0.45],[0.27,0.2],[0.28,1.3],[0.28,0.8],[0.29,0.35],[0.3,0.55],[0.3,0.18],[0.31,3.0],[0.32,0.4],[0.32,1.0],[0.33,0.25],[0.34,0.7],[0.35,0.45],[0.35,1.8],[0.36,0.3],[0.37,0.9],[0.38,0.55],[0.38,0.2],[0.4,1.3],[0.4,0.38],[0.41,0.7],[0.42,2.5],[0.43,0.5],[0.44,0.28],[0.45,1.0],[0.46,0.65],[0.47,1.6],[0.48,0.4],[0.49,0.85],[0.5,0.3],
[0.5,1.2],[0.52,0.55],[0.53,2.0],[0.55,0.75],[0.56,0.4],[0.57,1.0],[0.58,1.5],[0.6,0.6],[0.6,3.5],[0.62,0.9],[0.63,0.35],[0.64,1.3],[0.66,0.7],[0.67,2.2],[0.68,0.5],[0.7,1.1],[0.71,0.8],[0.72,1.7],[0.74,0.45],[0.75,1.0],[0.76,2.8],[0.78,0.65],[0.8,1.4],[0.8,0.9],[0.82,0.55],[0.84,2.0],[0.85,1.2],[0.87,0.75],[0.88,0.4],[0.9,1.6],[0.9,1.0],[0.92,4.0],[0.94,0.65],[0.95,1.3],[0.97,2.5],[0.98,0.85],
[1.0,1.1],[1.0,0.5],[1.05,1.8],[1.1,0.8],[1.1,1.4],[1.15,3.0],[1.2,1.0],[1.2,0.6],[1.25,2.2],[1.3,1.3],[1.3,0.8],[1.35,1.7],[1.4,1.0],[1.4,4.5],[1.45,2.6],[1.5,1.4],[1.5,0.75],[1.55,2.0],[1.6,1.1],[1.65,3.2],[1.7,1.6],[1.7,0.9],[1.75,2.4],[1.8,1.3],[1.85,5.0],[1.9,2.0],[1.95,1.0],[2.0,2.8],[2.0,1.5],[2.1,1.2],[2.2,3.5],[2.2,2.0],[2.3,22],[2.3,1.4],[2.4,2.5],[2.5,1.8],[2.5,6.0],[2.6,3.0],[2.7,1.4],[2.8,2.2],[2.9,4.0],[3.0,1.7],
[3.0,2.8],[3.2,3.5],[3.3,2.2],[3.4,6.5],[3.5,1.6],[3.6,4.5],[3.7,3.0],[3.8,2.0],[4.0,5.0],[4.0,3.5],[4.2,8.0],[4.3,2.5],[4.5,4.2],[4.6,6.0],[4.8,3.2],[5.0,5.5],[5.0,2.4],[5.2,10],[5.4,4.0],[5.6,7.0],[5.8,3.5],[6.0,5.0],[6.2,12],[6.4,6.0],[6.6,4.0],[6.8,8.5],[7.0,5.5],[7.2,3.0],[7.4,6.2],[7.5,15],[7.8,7.0],[8.0,4.5],[8.2,10],[8.5,6.0],[8.8,2.7],[9.0,12],[9.2,8.0],[9.5,5.5],[9.8,18],
[10,10],[10,7],[11,14],[11,9],[12,6],[12,20],[13,11],[13,8],[14,16],[15,12],[15,25],[16,9],[17,18],[18,13],[19,28],[20,15],[20,22],[22,11],[23,30],[24,18],[25,25],[27,14],[28,35],[30,22],[30,30],[32,45],[34,26],[36,18],[38,38],[40,30],[42,55],[44,36],[47,25],[50,45],[50,65],[55,40],[58,70],[60,55],[65,45],[70,90],[72,60],[75,180],[78,75],[80,50],[85,100],[90,70],[95,130],[100,85],[72,15],[44,175],
[110,150],[120,110],[130,170],[140,220],[145,420],[160,130],[180,250],[200,170],[215,83],[220,300],[250,235],[280,380],[300,260],[350,450],[400,500],[450,380],[500,600],[575,650],[600,700],[650,750],[700,600],[800,1000],[900,800],[1000,1300],[1100,900],[1250,1000],[1300,1200],[1400,1500],[1600,1400],[1850,1700],[2000,2000],[2500,3150],[3000,3500],[8900,12300],[9100,13500],[9500,11800],[8900,10000]];
const fIgCore = [[0.004,0.005],[0.0042,0.015],[0.0046,0.009],[0.005,0.04],[0.0053,0.012],[0.0056,0.006],[0.006,0.02],[0.0063,0.03],[0.0066,0.01],[0.007,0.015],[0.0073,0.05],[0.0076,0.022],[0.008,0.008],[0.0083,0.03],[0.0086,0.015],[0.009,0.04],[0.0093,0.01],[0.0096,0.02],
[0.0102,0.012],[0.0108,0.06],[0.0112,0.022],[0.0118,0.035],[0.0122,0.015],[0.0128,0.08],[0.0132,0.028],[0.0138,0.04],[0.0142,0.018],[0.0148,0.06],[0.0152,0.03],[0.0158,0.1],[0.0162,0.045],[0.0168,0.02],[0.0172,0.06],[0.0178,0.035],[0.0182,0.14],[0.0188,0.045],[0.0195,0.025],[0.0205,0.07],[0.021,0.1],[0.0215,0.035],[0.0225,0.05],[0.023,0.025],[0.0235,0.13],[0.0245,0.07],[0.0255,0.04],[0.0265,0.1],[0.027,0.055],[0.0275,0.03],[0.0285,0.15],[0.0295,0.07],
[0.03,0.05],[0.031,0.11],[0.032,0.03],[0.033,0.07],[0.034,0.2],[0.035,0.09],[0.036,0.05],[0.037,0.13],[0.038,0.035],[0.039,0.07],[0.04,0.1],[0.041,0.25],[0.042,0.05],[0.043,0.15],[0.044,0.07],[0.045,0.12],[0.046,0.04],[0.047,0.2],[0.048,0.09],[0.049,0.3],[0.051,0.06],[0.052,0.16],[0.054,0.1],[0.055,0.05],[0.057,0.25],[0.058,0.08],[0.06,0.15],[0.061,0.06],[0.063,0.4],[0.064,0.1],[0.066,0.2],[0.067,0.08],[0.069,0.13],[0.071,0.35],[0.073,0.06],[0.075,0.18],[0.077,0.1],[0.079,0.28],[0.081,0.08],[0.083,0.15],[0.084,0.5],[0.086,0.1],[0.088,0.25],[0.09,0.07],[0.091,0.18],[0.093,0.12],[0.095,0.4],[0.097,0.1],[0.099,0.25],
[0.102,0.15],[0.104,0.5],[0.107,0.12],[0.109,0.25],[0.112,0.09],[0.114,0.2],[0.117,0.7],[0.119,0.15],[0.122,0.3],[0.124,0.12],[0.127,0.22],[0.129,0.6],[0.132,0.18],[0.134,0.35],[0.137,0.14],[0.139,0.25],[0.142,0.9],[0.144,0.18],[0.147,0.4],[0.149,0.22],[0.152,0.16],[0.154,0.3],[0.157,0.55],[0.159,0.2],[0.162,0.35],[0.164,0.15],[0.167,0.8],[0.169,0.28],[0.172,0.2],[0.174,0.5],[0.177,0.35],[0.179,0.18],[0.182,1.3],[0.184,0.25],[0.187,0.4],[0.189,0.3],[0.192,0.7],[0.194,0.16],[0.197,0.5],[0.199,0.3],[0.203,0.25],[0.207,0.6],[0.212,0.2],[0.217,0.4],[0.222,1.2],[0.226,0.3],[0.232,0.7],[0.236,0.22],[0.242,0.5],[0.246,0.3],[0.252,0.9],[0.256,0.4],[0.262,0.25],[0.266,0.6],[0.272,1.6],[0.276,0.35],[0.282,0.5],[0.286,0.25],[0.292,0.8],[0.296,0.45],
[0.305,0.35],[0.315,0.7],[0.325,0.28],[0.335,0.5],[0.345,1.2],[0.355,0.35],[0.365,0.6],[0.375,0.3],[0.385,0.9],[0.395,0.5],[0.405,2.0],[0.415,0.4],[0.425,0.75],[0.435,0.35],[0.445,0.6],[0.455,1.3],[0.465,0.5],[0.475,0.8],[0.485,0.35],[0.495,0.65],[0.51,1.5],[0.53,0.5],[0.55,0.9],[0.57,0.6],[0.59,1.2],[0.61,0.45],[0.63,0.8],[0.65,1.8],[0.67,0.6],[0.69,1.0],[0.71,0.55],[0.73,1.3],[0.75,0.7],[0.77,2.2],[0.79,0.9],[0.81,0.6],[0.83,1.1],[0.85,0.7],[0.87,1.5],[0.89,0.55],[0.91,0.9],[0.93,1.2],[0.95,0.75],[0.97,1.8],[0.99,1.0],
[1.03,0.7],[1.08,1.2],[1.12,2.2],[1.17,0.9],[1.22,1.5],[1.27,0.75],[1.32,1.9],[1.37,1.2],[1.42,0.9],[1.47,1.7],[1.52,3.0],[1.57,1.2],[1.62,1.6],[1.67,0.95],[1.72,2.1],[1.77,1.3],[1.82,1.0],[1.87,1.7],[1.92,2.6],[1.97,1.3],[2.05,1.8],[2.15,1.4],[2.25,2.4],[2.35,1.7],[2.45,3.2],[2.55,2.2],[2.65,1.6],[2.75,2.8],[2.85,1.8],[2.95,2.4],[3.1,2.0],[3.3,3.0],[3.5,2.4],[3.7,4.0],[3.9,2.8],[4.1,3.3],[4.3,4.5],[4.6,2.9],[4.9,4.0],[5.2,3.3],[5.5,5.0],[5.8,4.2],[6.1,6.5],[6.5,4.8],[6.9,6.0],[7.3,4.5],[7.7,8],[8.1,5.5],[8.6,7.2],[9.1,6.3],[9.6,10],
[10.5,8.5],[11.5,11],[12.5,9.5],[13.5,14],[14.5,10.5],[16,15],[17.5,12],[19,20],[21,16],[22.5,19],[24,27],[26,20],[28,24],[31,28],[33,34],[35,25],[37,42],[40,34],[43,38],[46,50],[49,42],[53,48],[57,60],[61,52],[66,70],[71,62],[76,80],[82,72],[88,95],[95,85],[105,120],[115,100],[125,140],[135,150],[150,140],[165,190],[190,210],[230,260],[270,280],[320,350],[380,420],[430,460],
[0.0012,0.006],[0.0015,0.012],[0.0018,0.004],[0.002,0.009],[0.0022,0.03],[0.0024,0.006],[0.0026,0.015],[0.0028,0.009],[0.003,0.025],[0.0032,0.005],[0.0034,0.018],[0.0036,0.04],[0.0038,0.008],[0.0041,0.013],[0.0044,0.05],[0.0047,0.007],[0.0052,0.02],[0.0057,0.035],[0.0061,0.007],[0.0067,0.025],[0.0071,0.012],[0.0077,0.08],[0.0081,0.016],[0.0087,0.025],[0.0091,0.1],[0.0097,0.03]];
const fHighlight = [[1.55,195],[2.75,89],[9.1,73],[1.0,56],[2.0,39],[4.6,22],[0.31,2.2],[0.28,2.1],[0.2,1.6],[0.096,1.15]];

// ===================== LAYOUT =====================
const FONT = '"Liberation Sans",Arial,Helvetica,sans-serif';
const svg = d3.select('body').append('svg').attr('width',798).attr('height',1079).style('display','block');

function powLabel(sel, v){
  const e = Math.round(Math.log10(v));
  if (e === 0) { sel.text('1'); return; }
  if (e === 1) { sel.text('10'); return; }
  sel.append('tspan').text('10');
  sel.append('tspan').attr('dy',-4).attr('font-size',7).text(String(e));
}

function makePanel(p){
  const g = svg.append('g');
  const x = d3.scaleLog().domain(p.xd).range([p.l,p.r]);
  const y = d3.scaleLog().domain(p.yd).range([p.b,p.t]);
  const cid = 'clip' + p.name;
  svg.append('clipPath').attr('id',cid).append('rect')
    .attr('x',p.l).attr('y',p.t).attr('width',p.r-p.l).attr('height',p.b-p.t);
  g.append('g').selectAll('line').data(p.xt).join('line')
    .attr('x1',d=>x(d)).attr('x2',d=>x(d)).attr('y1',p.t).attr('y2',p.b)
    .attr('stroke',d=>d===1?'#b9b9b9':'#dadada').attr('stroke-width',d=>d===1?1.6:1);
  g.append('g').selectAll('line').data(p.yt).join('line')
    .attr('y1',d=>y(d)).attr('y2',d=>y(d)).attr('x1',p.l).attr('x2',p.r)
    .attr('stroke',d=>d===1?'#b9b9b9':'#dadada').attr('stroke-width',d=>d===1?1.6:1);
  g.append('rect').attr('x',p.l).attr('y',p.t).attr('width',p.r-p.l).attr('height',p.b-p.t)
    .attr('fill','none').attr('stroke','#d4d4d4').attr('stroke-width',1);
  const ax = g.append('g').attr('transform',`translate(0,${p.b})`)
    .call(d3.axisBottom(x).tickValues(p.xt).tickSize(0).tickFormat(()=>''));
  ax.select('.domain').remove();
  ax.selectAll('.tick text').remove();
  ax.selectAll('.tick').each(function(d){
    const t = d3.select(this).append('text').attr('y',14.5).attr('text-anchor','middle')
      .attr('font-size',10).attr('fill','#222').style('font-family',FONT);
    powLabel(t,d);
  });
  const ay = g.append('g').attr('transform',`translate(${p.l},0)`)
    .call(d3.axisLeft(y).tickValues(p.yt).tickSize(0).tickFormat(()=>''));
  ay.select('.domain').remove();
  ay.selectAll('.tick text').remove();
  ay.selectAll('.tick').each(function(d){
    const t = d3.select(this).append('text').attr('x',-5).attr('y',3.6).attr('text-anchor','end')
      .attr('font-size',10).attr('fill','#222').style('font-family',FONT);
    powLabel(t,d);
  });
  const plot = g.append('g').attr('clip-path',`url(#${cid})`);
  return {x,y,g,plot,p};
}

function diagonals(P){
  const lo = 1e-5, hi = 1e7;
  [[0.5,'#8a8a8a',0.8],[2,'#8a8a8a',0.8],[1,'#666',1.1]].forEach(([k,c,w])=>{
    P.plot.append('line').attr('x1',P.x(lo)).attr('y1',P.y(lo*k)).attr('x2',P.x(hi)).attr('y2',P.y(hi*k))
      .attr('stroke',c).attr('stroke-width',w);
  });
}

const SHAPES = {circle:d3.symbolCircle, tri:d3.symbolTriangle, sq:d3.symbolSquare, dia:d3.symbolSquare};
function drawPts(P, data, o){
  const path = d3.symbol(SHAPES[o.shape], o.size)();
  P.plot.append('g').selectAll('path').data(data).join('path')
    .attr('d',path)
    .attr('transform',d=>`translate(${P.x(d[0])},${P.y(d[1])})`+(o.shape==='dia'?' rotate(45)':''))
    .attr('fill',o.fill).attr('stroke',o.stroke||'none').attr('stroke-width',o.sw||0);
}
function marker(g, cx, cy, o){
  g.append('path').attr('d',d3.symbol(SHAPES[o.shape], o.size)())
    .attr('transform',`translate(${cx},${cy})`+(o.shape==='dia'?' rotate(45)':''))
    .attr('fill',o.fill).attr('stroke',o.stroke||'none').attr('stroke-width',o.sw||0);
}

function annotate(P, list){
  list.forEach(a=>{
    const px = P.x(a.p[0]), py = P.y(a.p[1]);
    const sx = px + a.l[0], sy = py + a.l[1];
    const dx = px - sx, dy = py - sy, len = Math.hypot(dx,dy);
    const ex = px - dx/len*3, ey = py - dy/len*3;
    P.g.append('line').attr('x1',sx).attr('y1',sy).attr('x2',ex).attr('y2',ey)
      .attr('stroke','#8c8c8c').attr('stroke-width',0.7);
    P.g.append('text').attr('x',px+a.t[0]).attr('y',py+a.t[1]).attr('text-anchor',a.a||'start')
      .attr('font-size',11).attr('font-style','italic').attr('fill','#333').style('font-family',FONT).text(a.s);
  });
}

function legend(box, items, fs, title){
  const g = svg.append('g');
  g.append('rect').attr('x',box[0]).attr('y',box[1]).attr('width',box[2]).attr('height',box[3])
    .attr('fill','#fff').attr('stroke','#111').attr('stroke-width',1.5);
  if (title) g.append('text').attr('x',box[0]+title[0]).attr('y',box[1]+title[1]).attr('font-size',fs)
    .style('font-family',FONT).attr('fill','#222').text(title[2]);
  items.forEach(it=>{
    marker(g, box[0]+it.mx, box[1]+it.y, it.o);
    g.append('text').attr('x',box[0]+it.tx).attr('y',box[1]+it.y+fs*0.36).attr('font-size',fs)
      .style('font-family',FONT).attr('fill','#222').text(it.s);
  });
}

function txt(x,y,s,o={}){
  const t = svg.append('text').attr('x',x).attr('y',y).attr('font-size',o.fs||11)
    .attr('text-anchor',o.a||'start').attr('font-weight',o.w||'normal').attr('fill',o.fill||'#222')
    .style('font-family',FONT);
  if (o.rot) t.attr('transform',`rotate(-90,${x},${y})`);
  t.text(s);
  return t;
}
function yTitleMut(x,y){
  const t = svg.append('text').attr('x',x).attr('y',y).attr('font-size',11).attr('text-anchor','middle')
    .attr('transform',`rotate(-90,${x},${y})`).style('font-family',FONT).attr('fill','#222');
  t.append('tspan').text('RNA abundance (FPKM) - ');
  t.append('tspan').attr('font-style','italic').text('mmi1\u0394');
}

const S = {
  blueA:{shape:'circle',size:21,fill:'#4a62ad'},
  blueD:{shape:'circle',size:22,fill:'#6f92d8'},
  red:{shape:'circle',size:22,fill:'#c81c22'},
  orange:{shape:'circle',size:22,fill:'#d56b24'},
  yellow:{shape:'circle',size:22,fill:'#f0bf1e'},
  triBlk:{shape:'tri',size:22,fill:'#000'},
  triOpen:{shape:'tri',size:12,fill:'#fff',stroke:'#000',sw:0.9},
  gray:{shape:'circle',size:20,fill:'#9d9d9d'},
  circOpen:{shape:'circle',size:12,fill:'#fff',stroke:'#000',sw:1},
  dia:{shape:'dia',size:20,fill:'#fff',stroke:'#000',sw:1.1},
  sqC:{shape:'sq',size:28,fill:'#3b8a3b'},
  sqCopen:{shape:'sq',size:22,fill:'#fff',stroke:'#3b8a3b',sw:1.2},
  sqF:{shape:'sq',size:30,fill:'#4fa745'},
  sqBlk:{shape:'sq',size:28,fill:'#000'}
};

// ---------- Panel A ----------
const PA = makePanel({name:'A',l:66.7,r:386.7,t:32.3,b:329,xd:[1e-2,1e5],yd:[1e-3,1e4],xt:ticksA_x,yt:ticksA_y});
drawPts(PA, aMrna, S.blueA);
drawPts(PA, aNcrna, S.triBlk);
annotate(PA,[
  {s:'mei4',p:[1.8,2900],t:[16,-11],a:'middle',l:[10,-8]},
  {s:'sme2',p:[1.8,1800],t:[18,0],l:[14,-3]},
  {s:'crs1',p:[0.55,1750],t:[-14,-2],a:'end',l:[-12,-4]},
  {s:'spo5',p:[1.0,550],t:[-14,0],a:'end',l:[-12,-3]},
  {s:'rec8',p:[1.05,490],t:[15,-5],l:[14,-7]},
  {s:'rps2202',p:[330,260],t:[13,-12],a:'middle',l:[10,-9]},
  {s:'spcc11e10.01',p:[54,25],t:[-20,-18.5],l:[12,-14]},
  {s:'dbp2',p:[178,29],t:[14,-4],l:[13,-7]},
  {s:'prt / pho1',p:[178,26],t:[14,11],l:[13,7]},
  {s:'rpl3002',p:[215,8.3],t:[15,9],l:[14,5]}
]);
legend([80.7,275,67.6,43.3],[
  {s:'mRNA',y:11.7,mx:11.6,tx:22,o:S.blueA},
  {s:'ncRNA',y:30,mx:11.6,tx:22,o:S.triBlk}
],11);

// ---------- Panel B ----------
const PB = makePanel({name:'B',l:66.7,r:386.7,t:406.7,b:695,xd:[1e-3,1e4],yd:[1e-1,1e6],xt:ticksBC_x,yt:ticksBC_y});
drawPts(PB, mrnaTotal, S.gray);
drawPts(PB, bMrnaPAminus, S.circOpen);
drawPts(PB, bNcPAminus, S.triOpen);
drawPts(PB, bSno, S.dia);
drawPts(PB, bNcPA, S.triBlk);
annotate(PB,[
  {s:'sme2',p:[0.056,5.9e4],t:[-4,-13],l:[4,-11]},
  {s:'mei4',p:[0.085,5.8e4],t:[20,-6],l:[18,-7]},
  {s:'nc1366',p:[0.085,1.0e4],t:[38,-14],l:[37,-11]},
  {s:'nc532',p:[1.03,4000],t:[15,-6],l:[14,-4]}
]);
legend([279.3,420.7,89.7,87],[
  {s:'mRNA (pA+)',y:4.6,mx:11.7,tx:24,o:S.gray},
  {s:'mRNA (pA-)',y:21.9,mx:11.7,tx:24,o:S.circOpen},
  {s:'ncRNA (pA+)',y:39.3,mx:11.7,tx:24,o:S.triBlk},
  {s:'ncRNA (pA-)',y:57,mx:11.7,tx:24,o:S.triOpen},
  {s:'sn / snoRNA',y:76,mx:11.7,tx:24,o:S.dia}
],10.5);

// ---------- Panel C ----------
const PC = makePanel({name:'C',l:66.7,r:382.7,t:769.3,b:1038.3,xd:[1e-3,1e4],yd:[1e-1,1e6],xt:ticksBC_x,yt:ticksBC_y});
drawPts(PC, mrnaTotal, S.gray);
drawPts(PC, cIgPAminus, S.sqCopen);
drawPts(PC, cIgPA, S.sqC);
annotate(PC,[
  {s:'rpl3202-RT',p:[0.0137,8.7e4],t:[-12,-14],a:'middle',l:[-2,-11]},
  {s:'sme2-L',p:[0.053,7.2e4],t:[2.5,-16],l:[3.5,-13]},
  {s:'mei4',p:[0.085,5.8e4],t:[21,-2],l:[19,-4]},
  {s:'nc-tgp1',p:[0.24,1.23e4],t:[-5,-10],l:[7,-7.5]},
  {s:'rpl802-RT',p:[0.23,260],t:[-14,7],a:'end',l:[-13,4]}
]);
legend([220,775.7,157.7,58.6],[
  {s:'mRNA',y:12,mx:13.3,tx:28.3,o:S.gray},
  {s:'intergenic RNA (polyA+)',y:29.3,mx:13.3,tx:28.3,o:S.sqC},
  {s:'intergenic RNA (polyA-)',y:46.6,mx:13.3,tx:28.3,o:S.sqCopen}
],11);

// ---------- Panel D ----------
const PD = makePanel({name:'D',l:476,r:788.3,t:32.3,b:326.7,xd:[1e-3,1e4],yd:[1e-3,1e4],xt:ticksDE,yt:ticksDE});
diagonals(PD);
drawPts(PD, dAll, S.blueD);
drawPts(PD, dYellow, S.yellow);
drawPts(PD, dOrange, S.orange);
drawPts(PD, dRed, S.red);
annotate(PD,[
  {s:'prt / pho1',p:[107,200],t:[-16,-25],a:'middle',l:[-5,-19]},
  {s:'dbp2',p:[91,195],t:[-18,-11],a:'middle',l:[-5,-5]},
  {s:'rps2202',p:[215,215],t:[14,10],l:[13,5]},
  {s:'rpl3002',p:[76,178],t:[-17,5],a:'end',l:[-16,3]},
  {s:'mei4',p:[2.9,55],t:[-15,-16],a:'middle',l:[-7,-12]},
  {s:'crs1',p:[1.6,21],t:[-15,-7],a:'end',l:[-14,-5]},
  {s:'rec8',p:[1.0,14],t:[-33,-9],a:'end',l:[-32,-8]},
  {s:'spo5',p:[0.89,8.7],t:[-18,-5],a:'end',l:[-17,-4]}
]);
legend([667.7,242.3,110,73.7],[
  {s:'> 40',y:27.7,mx:32.3,tx:45.6,o:S.red},
  {s:'20-40',y:45,mx:32.3,tx:45.6,o:S.orange},
  {s:'10-20',y:62.7,mx:32.3,tx:45.6,o:S.yellow}
],11,[9,16,'CRAC enrichment']);

// ---------- Panel E ----------
const PE = makePanel({name:'E',l:476,r:788.3,t:411,b:695,xd:[1e-3,1e4],yd:[1e-3,1e4],xt:ticksDE,yt:ticksDE});
diagonals(PE);
drawPts(PE, eNcPA, S.triBlk);
drawPts(PE, eNcPAcore, S.triBlk);
drawPts(PE, eNcPAminus, S.triOpen);
drawPts(PE, eSno, S.dia);
annotate(PE,[
  {s:'sme2',p:[1.5,76],t:[-28,-13],a:'middle',l:[-14,-11]},
  {s:'nc1366',p:[1.12,16],t:[-15,-4],a:'end',l:[-14,-5]},
  {s:'nc532',p:[10,58],t:[3,-17],a:'middle',l:[6,-14]}
]);
legend([677.7,618.3,98.3,61.7],[
  {s:'ncRNA (pA+)',y:15,mx:9,tx:23.3,o:S.triBlk},
  {s:'ncRNA (pA-)',y:31.7,mx:9,tx:23.3,o:S.triOpen},
  {s:'sn / snoRNA',y:50,mx:9,tx:23.3,o:S.dia}
],11);

// ---------- Panel F ----------
const PF = makePanel({name:'F',l:476,r:787.3,t:769.3,b:1040,xd:[1e-3,1e5],yd:[1e-3,1e5],xt:ticksF,yt:ticksF});
diagonals(PF);
drawPts(PF, fIg, S.sqF);
drawPts(PF, fIgCore, S.sqF);
drawPts(PF, fHighlight, S.sqBlk);
annotate(PF,[
  {s:'rpl3202-RT',p:[1.55,195],t:[-15,-27],a:'middle',l:[-4,-23]},
  {s:'rpl802-RT',p:[2.75,89],t:[-9,-25],l:[-5,-21]},
  {s:'nc-tgp1',p:[9.1,73],t:[-6,-11],l:[7,-8]},
  {s:'sme2-L',p:[1.0,56],t:[-15,-14],a:'end',l:[-14,-9]},
  {s:'atp5-RT',p:[2.0,39],t:[-16,5],a:'end',l:[-15,3]},
  {s:'cox12-RT',p:[4.6,22],t:[19,40],l:[33,32]},
  {s:'prt/pho1-RT',p:[0.28,2.1],t:[-13,-20.6],a:'end',l:[-14,-18.6]},
  {s:'crs1-RT',p:[0.2,1.6],t:[-11.5,-10.6],a:'end',l:[-11.5,-8.6]},
  {s:'spo5-RT',p:[0.096,1.15],t:[-23,1.6],a:'end',l:[-22,0]},
  {s:'pre6-RT',p:[0.31,2.2],t:[34,37],l:[27,31]}
]);
legend([664.3,1003.3,113.4,25],[
  {s:'intergenic RNA',y:12.7,mx:14,tx:28.4,o:S.sqF}
],11);

// ---------- Titles & axis titles ----------
txt(3,13,'A',{fs:14,w:'bold'}); txt(3,392,'B',{fs:14,w:'bold'}); txt(3,761,'C',{fs:14,w:'bold'});
txt(421,13.5,'D',{fs:14,w:'bold'}); txt(421,392,'E',{fs:14,w:'bold'}); txt(421,761,'F',{fs:14,w:'bold'});
txt(208,14,'Mmi1 CRAC',{fs:17,w:'bold',a:'middle'});
txt(605,14,'RNAseq',{fs:17,w:'bold',a:'middle'});

txt(219,362,'RNA abundance (polyA+)',{a:'middle'});
txt(219,727,'RNA abundance (total)',{a:'middle'});
txt(221.7,1075,'RNA abundance (total)',{a:'middle'});
txt(634.5,362,'RNA abundance (FPKM) - wt',{a:'middle'});
txt(634.5,727,'RNA abundance (FPKM) - wt',{a:'middle'});
txt(634.5,1073,'RNA abundance (FPKM) - wt',{a:'middle'});

txt(19,183,'Mmi1 CRAC enrichment',{a:'middle',rot:true});
txt(34,183,'(CRAC FPKM / RNA abundance (polyA+))',{a:'middle',rot:true});
txt(19,545,'Mmi1 CRAC enrichment',{a:'middle',rot:true});
txt(34,545,'(CRAC FPKM / RNA abundance (total))',{a:'middle',rot:true});
txt(19,900,'Mmi1 CRAC enrichment',{a:'middle',rot:true});
txt(34,900,'(CRAC FPKM / RNA abundance (total))',{a:'middle',rot:true});
yTitleMut(445.5,179);
yTitleMut(445.5,550);
yTitleMut(445.5,905);
</script></body></html>
